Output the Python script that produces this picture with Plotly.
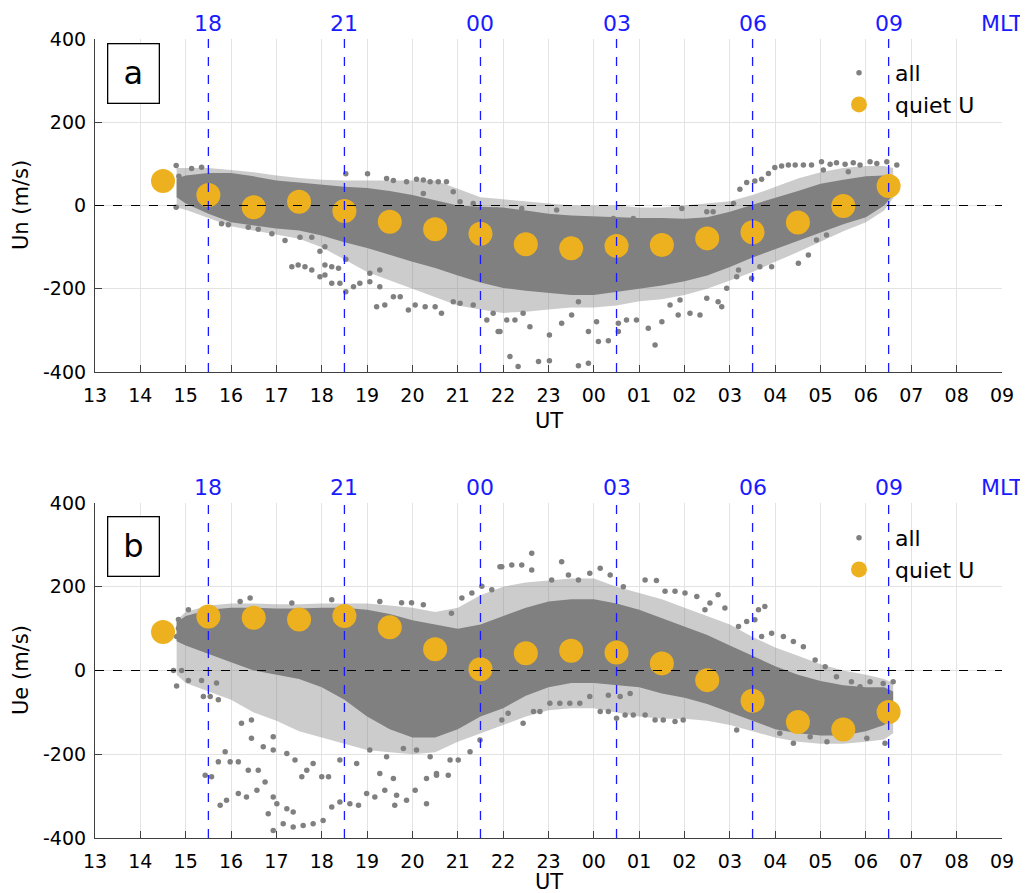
import plotly.graph_objects as go

# ---------------- data ----------------
UT_TICKS = list(range(13, 34))
UT_TICK_LABELS = ["13", "14", "15", "16", "17", "18", "19", "20", "21", "22", "23",
                  "00", "01", "02", "03", "04", "05", "06", "07", "08", "09"]
Y_TICKS = [-400, -200, 0, 200, 400]
Y_TICK_LABELS = ["-400", "-200", "0", "200", "400"]
MLT_UT = [15.5, 18.5, 21.5, 24.5, 27.5, 30.5]
MLT_LABELS = ["18", "21", "00", "03", "06", "09"]

QUIET_X = [14.5, 15.5, 16.5, 17.5, 18.5, 19.5, 20.5, 21.5, 22.5, 23.5, 24.5,
           25.5, 26.5, 27.5, 28.5, 29.5, 30.5]
QUIET_UN = [59, 25, -4, 9, -13, -39, -57, -68, -93, -103, -97, -95, -79, -64, -41, -1, 47]
QUIET_UE = [92, 129, 126, 122, 130, 103, 51, 3, 41, 47, 43, 17, -23, -72, -123, -141, -99]

# envelope of the dense part of the "all" cloud (UT hour, m/s)
ENV_X = [14.8, 15.0, 15.5, 16.0, 16.5, 17.0, 17.5, 18.0, 18.5, 19.0, 19.5, 20.0, 20.5,
         21.0, 21.5, 22.0, 22.5, 23.0, 23.5, 24.0, 24.5, 25.0, 25.5, 26.0, 26.5, 27.0,
         27.5, 28.0, 28.5, 29.0, 29.5, 30.0, 30.4, 30.6]
UN_CORE_HI = [65, 72, 78, 78, 70, 60, 55, 50, 45, 42, 35, 25, 12, 0, -3, -5, -12, -20,
              -24, -26, -28, -30, -30, -32, -28, -15, 2, 18, 35, 52, 62, 70, 72, 68]
UN_CORE_LO = [20, 5, -20, -40, -48, -55, -60, -72, -88, -102, -118, -135, -150, -168,
              -185, -198, -205, -210, -215, -215, -208, -200, -192, -182, -168, -148,
              -125, -105, -85, -65, -45, -28, 0, 25]
UN_WIDE_HI = [90, 90, 90, 85, 80, 72, 66, 62, 60, 60, 60, 60, 60, 40, 20, 15, 10, 5,
              0, 0, 0, -5, -5, 0, 5, 10, 25, 45, 65, 80, 90, 95, 95, 90]
UN_WIDE_LO = [-5, -10, -30, -50, -60, -70, -80, -100, -130, -160, -180, -200, -220,
              -240, -250, -258, -255, -250, -245, -245, -240, -230, -225, -215, -200,
              -180, -160, -135, -112, -88, -62, -40, -12, 18]

UE_CORE_HI = [115, 130, 145, 150, 150, 148, 148, 150, 150, 145, 135, 120, 110, 100, 110,
              130, 150, 165, 170, 170, 160, 145, 125, 105, 85, 60, 35, 10, -10, -25,
              -35, -40, -40, -50]
UE_CORE_LO = [70, 60, 40, 20, 0, -10, -20, -40, -70, -110, -140, -160, -160, -140, -110,
              -90, -60, -40, -30, -30, -35, -40, -55, -65, -80, -100, -120, -140, -150,
              -155, -155, -145, -130, -110]
UE_WIDE_HI = [120, 140, 155, 160, 160, 158, 158, 160, 160, 160, 155, 150, 140, 150, 180,
              200, 210, 215, 220, 220, 200, 185, 170, 150, 130, 110, 80, 55, 35, 15, 0,
              -10, -20, -30]
UE_WIDE_LO = [-10, -30, -50, -70, -100, -120, -145, -160, -175, -190, -195, -200, -195,
              -170, -150, -130, -110, -95, -90, -90, -100, -110, -115, -115, -120, -130,
              -145, -160, -170, -175, -175, -170, -165, -150]

# scattered individual samples outside the dense part
UN_ALL_X = [14.79, 15.13, 15.35, 14.79, 14.85, 14.9, 15.0, 15.05, 14.95,
            15.79, 15.94, 16.38, 16.6, 16.9, 17.19, 17.52, 17.78, 17.96, 18.07,
            17.34, 17.48, 17.63, 17.78, 17.96, 18.07, 18.22, 18.37, 18.07, 18.22, 18.40,
            18.53, 18.53, 18.53, 19.01, 18.70, 18.84, 19.06, 19.06, 19.28, 19.28, 19.58,
            19.73, 19.21, 19.39, 19.91, 20.06, 20.28, 20.50, 20.64, 20.90, 21.05, 21.34,
            21.64, 21.89, 19.58, 19.87, 20.09, 20.24, 20.39, 20.57, 20.75, 20.90, 20.24,
            19.43, 21.34, 21.05, 22.15, 22.33, 21.93,
            22.78, 23.02, 23.66, 23.88, 23.02, 22.59, 22.44, 22.08, 22.26, 23.88, 24.10,
            24.32, 24.54, 24.54, 24.72, 24.94, 25.20, 25.35, 25.50, 25.68, 25.90, 26.12,
            26.34, 26.49, 26.74, 26.82, 25.86, 24.06, 23.51, 23.29, 23.66, 21.78, 27.15,
            27.48, 27.19, 26.93, 27.66, 27.92, 28.51, 28.73, 28.91, 29.13,
            27.08, 27.22, 27.37, 27.55, 27.70, 27.85, 27.99, 28.14, 28.29, 28.44, 28.62,
            28.80, 29.02, 29.21, 29.35, 29.54, 29.72, 29.87, 30.09, 30.24, 30.46, 30.68,
            29.06, 29.61, 26.49, 26.63, 25.94, 24.87, 24.43, 23.18, 22.41, 21.86]
UN_ALL_Y = [96, 89, 92, -4, 70, 45, 30, 15, 55,
            -44, -46, -52, -57, -68, -84, -76, -76, -110, -99,
            -147, -143, -147, -155, -171, -143, -147, -151, -167, -187, -187,
            -207, -129, 76, 76, -195, -187, -183, -163, -155, -195, -219,
            -219, -243, -239, -251, -239, -243, -243, -259, -231, -235, -239,
            -275, -303, 60, 57, 63, 61, 57, 57, 57, 33, 29,
            65, 5, 9, -363, -387, -303,
            -375, -373, -385, -379, -311, -291, -259, -275, -275, -303, -327,
            -325, -303, -283, -275, -275, -295, -335, -279, -239, -227, -259,
            -263, -223, -231, -243, -263, -279, -263, -283, -231, -259, -171,
            -175, -155, -199, -147, -147, -139, -119, -83, -71,
            5, 39, 55, 59, 63, 77, 91, 95, 97, 97, 97,
            97, 105, 99, 103, 99, 103, 97, 105, 101, 105, 97,
            85, 81, -15, -15, -7, -31, -31, -11, -7, -11]

UE_ALL_X = [14.84, 14.84, 14.80, 15.06, 15.10, 16.20, 16.42, 17.34, 18.22, 19.28, 19.76,
            19.98, 20.24, 20.86, 21.09, 21.31, 21.53, 21.75, 21.93, 22.19,
            14.80, 15.06, 14.73, 14.91, 15.35, 15.39, 15.54, 15.72, 15.68,
            16.23, 16.45, 16.45, 16.71, 16.93, 16.93, 17.23, 17.41, 17.67, 17.56, 18.00,
            18.15, 15.87, 15.72, 15.98, 16.16, 15.43, 15.57, 16.38, 16.60, 16.75, 16.57,
            16.34, 16.16, 15.90, 15.76, 16.93, 16.82, 17.01, 17.23, 17.37, 16.93, 17.15,
            17.37, 17.59, 17.81, 18.03, 18.22, 18.40, 18.62, 18.81, 18.99, 19.17, 19.39,
            19.65, 19.87, 20.06, 19.61, 19.28, 19.58, 20.31, 20.53, 20.79, 21.01, 21.27,
            21.49, 17.81, 18.40, 18.77, 19.06, 19.43, 19.80, 20.09, 20.39, 20.83, 20.31,
            20.53,
            21.97, 22.41, 22.63, 22.63, 23.29, 23.07, 23.44, 23.66, 23.91, 24.14, 24.36,
            24.65, 25.13, 25.38, 25.57, 25.79, 26.01, 26.27, 26.45, 26.74, 26.56, 26.89,
            27.19, 27.37, 27.55, 27.63, 27.77, 27.70, 27.92, 28.18, 28.40, 28.62, 28.88,
            29.10, 29.35, 29.68, 29.87, 30.09, 30.38, 30.60,
            21.97, 22.11, 22.44, 22.67, 22.81, 23.03, 23.25, 23.47, 23.69, 23.91, 24.14,
            24.32, 24.50, 24.69, 24.87, 25.13, 25.35, 25.53, 25.79, 25.97, 24.32, 24.58,
            24.80, 27.15, 28.40, 28.77, 29.14, 30.02, 30.42, 28.10]
UE_ALL_Y = [122, 101, 81, 145, 113, 165, 173, 161, 169, 165, 162,
            162, 157, 137, 173, 185, 201, 193, 248, 252,
            -37, -24, 0, 0, -24, -62, -62, -70, -30,
            -126, -118, -162, -182, -158, -190, -198, -214, -238, -254, -254,
            -254, -194, -218, -218, -218, -250, -254, -238, -238, -266, -286,
            -302, -294, -310, -322, -302, -342, -318, -330, -338, -382, -366,
            -374, -370, -366, -358, -326, -314, -318, -322, -294, -302, -286,
            -298, -310, -286, -322, -246, -258, -258, -250, -250, -214, -194,
            -166, -222, -214, -222, -190, -206, -186, -190, -206, -214, -318,
            -246,
            248, 252, 280, 240, 260, 216, 228, 216, 232, 244, 228,
            200, 216, 215, 189, 189, 185, 177, 145, 181, 161, 149,
            105, 117, 121, 145, 153, 81, 89, 81, 69, 57, 25,
            9, -15, -27, -39, -27, -31, -27,
            -118, -102, -126, -98, -98, -78, -78, -78, -78, -62, -98,
            -98, -114, -106, -106, -106, -118, -118, -122, -118, -59, -62,
            -55, -142, -174, -158, -170, -162, -174, -150]

# ---------------- style ----------------
# the page adds an 8 px body margin, so the figure is sized to fill the rest of the window
OFF = 8
W, H = 1028 - OFF, 893 - OFF
GRAY = "#808080"
ORANGE = "#EDB120"
BLUE = "#1a1aff"
FONT = "DejaVu Sans"


def px_x(p):
    return (p - OFF) / W


def px_y(p):
    return 1 - (p - OFF) / H


X_DOM = [px_x(95), px_x(1002)]
DOMS = {"a": [px_y(372), px_y(39)], "b": [px_y(838), px_y(503)]}
LEGEND_TOP = {"a": 52, "b": 517}
BOX_Y = {"a": 318, "b": 295}
UT_TITLE_Y = {"a": 421, "b": 882}
Y_TITLE_Y = {"a": 205, "b": 670}

fig = go.Figure()


def band(x, hi, lo, xa, ya, color):
    fig.add_trace(go.Scatter(
        x=list(x) + list(x)[::-1], y=list(hi) + list(lo)[::-1],
        fill="toself", fillcolor=color, mode="lines", line=dict(width=0),
        hoverinfo="skip", showlegend=False, xaxis=xa, yaxis=ya))


panels = [
    ("a", "x", "y", "legend", UN_WIDE_HI, UN_WIDE_LO, UN_CORE_HI, UN_CORE_LO,
     UN_ALL_X, UN_ALL_Y, QUIET_UN, "Un (m/s)"),
    ("b", "x2", "y2", "legend2", UE_WIDE_HI, UE_WIDE_LO, UE_CORE_HI, UE_CORE_LO,
     UE_ALL_X, UE_ALL_Y, QUIET_UE, "Ue (m/s)"),
]

for (lab, xa, ya, lg, whi, wlo, chi, clo, ax, ay, qy, ytitle) in panels:
    band(ENV_X, whi, wlo, xa, ya, "rgba(128,128,128,0.40)")
    band(ENV_X, chi, clo, xa, ya, GRAY)
    fig.add_trace(go.Scatter(
        x=ax, y=ay, mode="markers", name="all", legend=lg,
        marker=dict(color=GRAY, size=5.5, line=dict(width=0)),
        xaxis=xa, yaxis=ya))
    fig.add_trace(go.Scatter(
        x=QUIET_X, y=qy, mode="markers", name="quiet U", legend=lg,
        marker=dict(color=ORANGE, size=24, line=dict(width=0)),
        xaxis=xa, yaxis=ya))

axis_common = dict(
    showgrid=True, gridcolor="#e3e3e3", gridwidth=1,
    showline=True, linecolor="#404040", linewidth=1.2,
    ticks="inside", ticklen=7, tickwidth=1.2, tickcolor="#404040",
    tickfont=dict(family=FONT, size=19, color="black"),
    zeroline=False, mirror=False, automargin=False,
)

layout = dict(
    width=W, height=H, paper_bgcolor="white", plot_bgcolor="white",
    margin=dict(l=0, r=0, t=0, b=0, autoexpand=False),
    font=dict(family=FONT, color="black"),
    showlegend=True,
)
for i, (lab, xa, ya, lg, *_rest) in enumerate(panels):
    suffix = "" if i == 0 else "2"
    layout["xaxis" + suffix] = dict(
        axis_common, domain=X_DOM, range=[13, 33], tickvals=UT_TICKS,
        ticktext=UT_TICK_LABELS, anchor="y" + suffix, ticklabelstandoff=6)
    layout["yaxis" + suffix] = dict(
        axis_common, domain=DOMS[lab], range=[-400, 400], tickvals=Y_TICKS,
        ticktext=Y_TICK_LABELS, anchor="x" + suffix, ticklabelstandoff=4)
    layout[lg] = dict(
        x=px_x(823), y=px_y(LEGEND_TOP[lab]), xanchor="left", yanchor="top",
        bgcolor="rgba(0,0,0,0)", borderwidth=0, itemwidth=62,
        font=dict(family=FONT, size=22, color="black"),
        itemsizing="trace", tracegroupgap=0)

fig.update_layout(**layout)

for i, (lab, xa, ya, lg, *_r) in enumerate(panels):
    xref = xa
    yref = ya
    ytitle = panels[i][-1]
    for xv in MLT_UT:
        fig.add_shape(type="line", xref=xref, yref=yref + " domain", x0=xv, x1=xv, y0=0, y1=1,
                      line=dict(color=BLUE, width=1.3, dash="dash"))
    fig.add_shape(type="line", xref=xref + " domain", yref=yref, x0=0, x1=1, y0=0, y1=0,
                  line=dict(color="black", width=1.2, dash="dash"))
    for xv, t in zip(MLT_UT + [33], MLT_LABELS + ["MLT"]):
        fig.add_annotation(x=xv, y=1, xref=xref, yref=yref + " domain", text=t,
                           showarrow=False, yanchor="middle", yshift=15,
                           font=dict(family=FONT, size=22, color=BLUE))
    fig.add_annotation(x=13.85, y=BOX_Y[lab], xref=xref, yref=yref, text=lab, showarrow=False,
                       font=dict(family=FONT, size=32, color="black"),
                       bordercolor="black", borderwidth=1.3, bgcolor="white",
                       width=48, height=56, align="center", valign="middle")
    # axis titles
    fig.add_annotation(x=(X_DOM[0] + X_DOM[1]) / 2, y=px_y(UT_TITLE_Y[lab]), xref="paper",
                       yref="paper", text="UT", showarrow=False, xanchor="center",
                       yanchor="middle", font=dict(family=FONT, size=21, color="black"))
    fig.add_annotation(x=px_x(21), y=px_y(Y_TITLE_Y[lab]), xref="paper", yref="paper",
                       text=ytitle, showarrow=False, textangle=-90, xanchor="center",
                       yanchor="middle", font=dict(family=FONT, size=21, color="black"))

fig.write_html("out.html")
